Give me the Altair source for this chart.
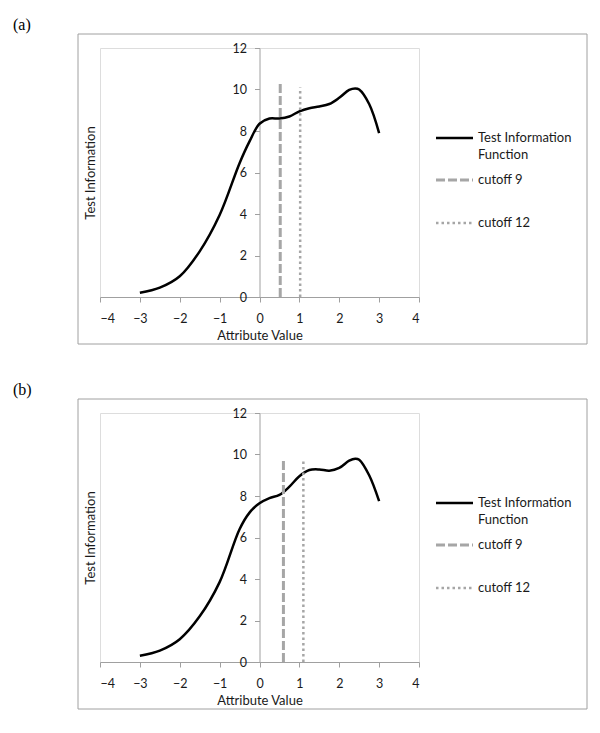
import altair as alt
import pandas as pd

# ---- data ----
x_a = [-3, -2.5, -2, -1.5, -1, -0.5, -0.25, 0, 0.25, 0.5, 0.75, 1, 1.25, 1.5, 1.75, 2, 2.25, 2.4, 2.5, 2.75, 3]
tif_a = [0.2, 0.45, 1.0, 2.2, 3.95, 6.45, 7.5, 8.35, 8.6, 8.6, 8.7, 8.95, 9.1, 9.18, 9.3, 9.6, 9.98, 10.05, 10.0, 9.3, 7.9]

x_b = [-3, -2.5, -2, -1.5, -1, -0.5, -0.25, 0, 0.25, 0.5, 0.75, 1, 1.25, 1.5, 1.75, 2, 2.25, 2.4, 2.5, 2.75, 3]
tif_b = [0.3, 0.55, 1.1, 2.2, 3.85, 6.4, 7.2, 7.65, 7.9, 8.05, 8.45, 8.95, 9.25, 9.28, 9.22, 9.35, 9.7, 9.8, 9.75, 9.0, 7.75]

cut_names = ["cutoff 9", "cutoff 12"]
cut_a = [0.52, 1.02]
cut_top_a = [10.3, 10.1]
cut_b = [0.6, 1.1]
cut_top_b = [9.8, 9.8]

legend_labels = ["Test Information Function", "cutoff 9", "cutoff 12"]
panel_labels = ["(a)", "(b)"]
x_ticks = [-4, -3, -2, -1, 0, 1, 2, 3, 4]
y_ticks = [0, 2, 4, 6, 8, 10, 12]

# ---- style / layout ----
W, H = 319, 249
FONT = "Lato"
AXIS_GRAY = "#a0a0a0"
LINE_GRAY = "#a6a6a6"
TEXT = "#1a1a1a"

xscale = alt.Scale(domain=[-4, 4], nice=False, zero=False)
yscale = alt.Scale(domain=[0, 12], nice=False)

x_axis = alt.Axis(
    values=x_ticks, title="Attribute Value", grid=False,
    domainColor=AXIS_GRAY, tickColor=AXIS_GRAY, tickSize=5,
    labelPadding=10, labelFont=FONT, labelFontSize=12.5, labelColor=TEXT,
    titleFont=FONT, titleFontSize=13, titleFontWeight="normal", titleColor=TEXT,
    titleY=38, titleBaseline="middle",
)
y_axis = alt.Axis(
    values=y_ticks, title="Test Information", grid=False, offset=-W / 2,
    domainColor=AXIS_GRAY, tickColor=AXIS_GRAY, tickSize=5,
    labelPadding=8, labelFont=FONT, labelFontSize=12.5, labelColor=TEXT,
    titleFont=FONT, titleFontSize=13, titleFontWeight="normal", titleColor=TEXT,
    titleX=-(W / 2) - 10, titleY=H / 2, titleAngle=270,
    titleAlign="center", titleBaseline="middle",
)


def panel(xs, ys, cuts, tops, label, anchor=False):
    curve_df = pd.DataFrame({"x": xs, "y": ys})
    cut_df = pd.DataFrame({"name": cut_names, "x": cuts, "top": tops, "base": [0, 0]})
    one = pd.DataFrame({"label": [label]})

    frame = alt.Chart(one).mark_rect(fillOpacity=0, stroke=AXIS_GRAY, strokeWidth=1).encode(
        x=alt.value(-22), x2=alt.value(487), y=alt.value(-14), y2=alt.value(296)
    )
    plab = alt.Chart(one).mark_text(
        font="Liberation Serif", fontSize=16, align="left", baseline="middle", color="black"
    ).encode(x=alt.value(-87), y=alt.value(-23), text="label:N")

    curve = alt.Chart(curve_df).mark_line(
        color="black", strokeWidth=2.5, interpolate="catmull-rom"
    ).encode(
        x=alt.X("x:Q", scale=xscale, axis=x_axis),
        y=alt.Y("y:Q", scale=yscale, axis=y_axis),
    )
    dashed = alt.Chart(cut_df).transform_filter(alt.datum.name == cut_names[0]).mark_rule(
        color=LINE_GRAY, strokeWidth=3, strokeDash=[9, 3]
    ).encode(
        x=alt.X("x:Q", scale=xscale, axis=x_axis),
        y=alt.Y("base:Q", scale=yscale, axis=y_axis),
        y2="top:Q",
    )
    dotted = alt.Chart(cut_df).transform_filter(alt.datum.name == cut_names[1]).mark_rule(
        color=LINE_GRAY, strokeWidth=2.5, strokeDash=[2.5, 3]
    ).encode(
        x=alt.X("x:Q", scale=xscale, axis=x_axis),
        y=alt.Y("base:Q", scale=yscale, axis=y_axis),
        y2="top:Q",
    )

    # custom legend (Excel style)
    first, second = legend_labels[0].rsplit(" ", 1)
    lg_tif = alt.Chart(one).mark_rule(color="black", strokeWidth=2.5).encode(
        x=alt.value(336), x2=alt.value(373), y=alt.value(90))
    lg_d = alt.Chart(one).mark_rule(color=LINE_GRAY, strokeWidth=3, strokeDash=[9, 3]).encode(
        x=alt.value(336), x2=alt.value(373), y=alt.value(132))
    lg_o = alt.Chart(one).mark_rule(color=LINE_GRAY, strokeWidth=2.5, strokeDash=[2.5, 3]).encode(
        x=alt.value(336), x2=alt.value(373), y=alt.value(175))
    txt = dict(font=FONT, fontSize=13, align="left", baseline="middle", color=TEXT)
    t1 = alt.Chart(one).mark_text(**txt).encode(x=alt.value(378), y=alt.value(90), text=alt.value(first))
    t2 = alt.Chart(one).mark_text(**txt).encode(x=alt.value(378), y=alt.value(107), text=alt.value(second))
    t3 = alt.Chart(one).mark_text(**txt).encode(x=alt.value(378), y=alt.value(132), text=alt.value(legend_labels[1]))
    t4 = alt.Chart(one).mark_text(**txt).encode(x=alt.value(378), y=alt.value(175), text=alt.value(legend_labels[2]))

    layers = [frame, plab, curve, dashed, dotted, lg_tif, lg_d, lg_o, t1, t2, t3, t4]
    if anchor:
        anc = alt.Chart(one).mark_rect(opacity=0).encode(
            x=alt.value(-91), x2=alt.value(-90), y=alt.value(-39), y2=alt.value(-38))
        layers = [anc] + layers
    return alt.layer(*layers).properties(width=W, height=H)


pa = panel(x_a, tif_a, cut_a, cut_top_a, panel_labels[0], anchor=True)
pb = panel(x_b, tif_b, cut_b, cut_top_b, panel_labels[1])

chart = alt.vconcat(pa, pb, spacing=116, bounds="flush", padding=0).configure_view(
    stroke="transparent"
).configure(background="white")

chart.save("out.html", embed_options={"renderer": "svg", "actions": False})
